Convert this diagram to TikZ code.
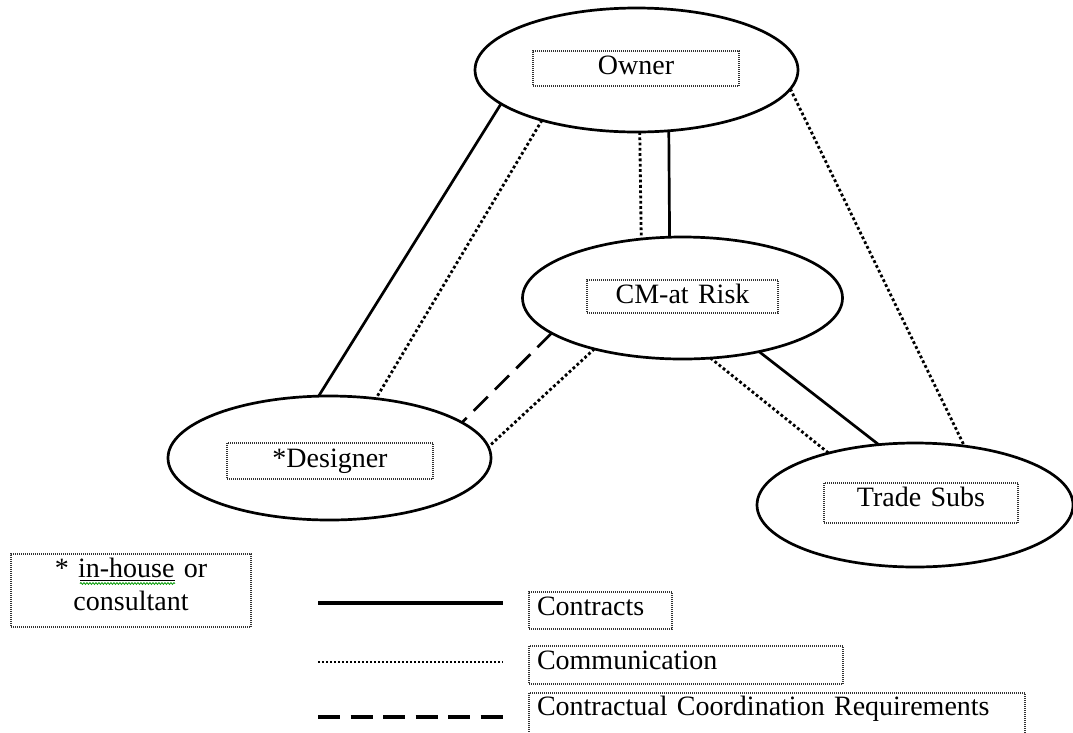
\documentclass[tikz,border=0pt]{standalone}
\usepackage{fontspec}
\setmainfont[WordSpace=0.75]{Liberation Serif}
\usetikzlibrary{shapes.geometric,decorations.pathmorphing}
\newcommand\fsz{\fontsize{28}{33}\selectfont}
\tikzset{
  party/.style={ellipse, draw, line width=2.7pt, inner sep=0pt, outer sep=0pt},
  lbl/.style={draw=black!80, line width=1.1pt, dash pattern=on 1pt off 1pt,
    inner sep=0pt, outer sep=0pt, align=center, font=\fsz, anchor=base west},
  leglbl/.style={lbl, align=left, inner xsep=8pt},
  contract/.style={line width=2.7pt},
  comm/.style={line width=2.8pt, dash pattern=on 2.8pt off 2.5pt},
  coord/.style={line width=2.7pt, dash pattern=on 20pt off 10pt},
  legcontract/.style={line width=3.4pt},
  legcomm/.style={line width=2.5pt, dash pattern=on 2pt off 2pt},
  legcoord/.style={line width=3.8pt, dash pattern=on 22pt off 10.5pt}
}
\begin{document}
\begin{tikzpicture}[x=1pt,y=-1pt]
\useasboundingbox (0,0) rectangle (1073,732);
\clip (0,0) rectangle (1073,732);

% parties
\node[party, minimum width=323pt, minimum height=124pt] (owner) at (636.5,70) {};
\node[party, minimum width=320pt, minimum height=122pt] (cm) at (682.5,298) {};
\node[party, minimum width=323pt, minimum height=124pt] (designer) at (329.5,458) {};
\node[party, minimum width=316pt, minimum height=124pt] (trade) at (915,505) {};

% labels inside ellipses
\node[lbl, text width=206pt, text height=23pt, text depth=12pt] (ownerlbl) at (533,74) {Owner};
\node[lbl, text width=191pt, text height=23pt, text depth=10pt] (cmlbl) at (587,303) {CM-at Risk};
\node[lbl, text width=206pt, text height=24pt, text depth=12pt] (designerlbl) at (227,467) {*Designer};
\node[lbl, text width=194pt, text height=23pt, text depth=17pt] (tradelbl) at (824,506) {Trade Subs};

% connectors
\draw[contract] (owner.194.6) -- (designer.100.3);
\draw[comm] (owner.208.5) -- (designer.52.8);
\draw[comm] (owner.273.23) -- (cm.125.85);
\draw[contract] (owner.298.16) -- (cm.102.5);
\draw[comm] (owner.353.8) -- (trade.50.66);
\draw[coord] (cm.195.3) -- (designer.15.5);
\draw[comm] (cm.210) -- (designer.4.9);
\draw[comm] (cm.295.1) -- (trade.149.7);
\draw[contract] (cm.325.5) -- (trade.121.5);

% note box
\node[lbl, text width=240pt, text height=23pt, text depth=50pt] (note) at (11,577) {* in-house or\\consultant};
\draw[line width=0.8pt] (80,580) -- (175,580);
\draw[green!60!black, line width=0.8pt, decorate,
  decoration={snake, amplitude=0.9pt, segment length=3pt}] (80,583.5) -- (175,583.5);

% legend
\coordinate (l1a) at (318,603); \coordinate (l1b) at (503,603);
\coordinate (l2a) at (318,662); \coordinate (l2b) at (503,662);
\coordinate (l3a) at (318,717); \coordinate (l3b) at (503,717);
\draw[legcontract] (l1a) -- (l1b);
\draw[legcomm] (l2a) -- (l2b);
\draw[legcoord] (l3a) -- (l3b);
\node[leglbl, text width=127pt, text height=23pt, text depth=14pt] (contracts) at (529,615) {Contracts};
\node[leglbl, text width=298pt, text height=23pt, text depth=15pt] (communication) at (529,669) {Communication};
\node[leglbl, text width=480pt, text height=22pt, text depth=30pt] (coordination) at (529,715) {Contractual Coordination Requirements};
\end{tikzpicture}
\end{document}
